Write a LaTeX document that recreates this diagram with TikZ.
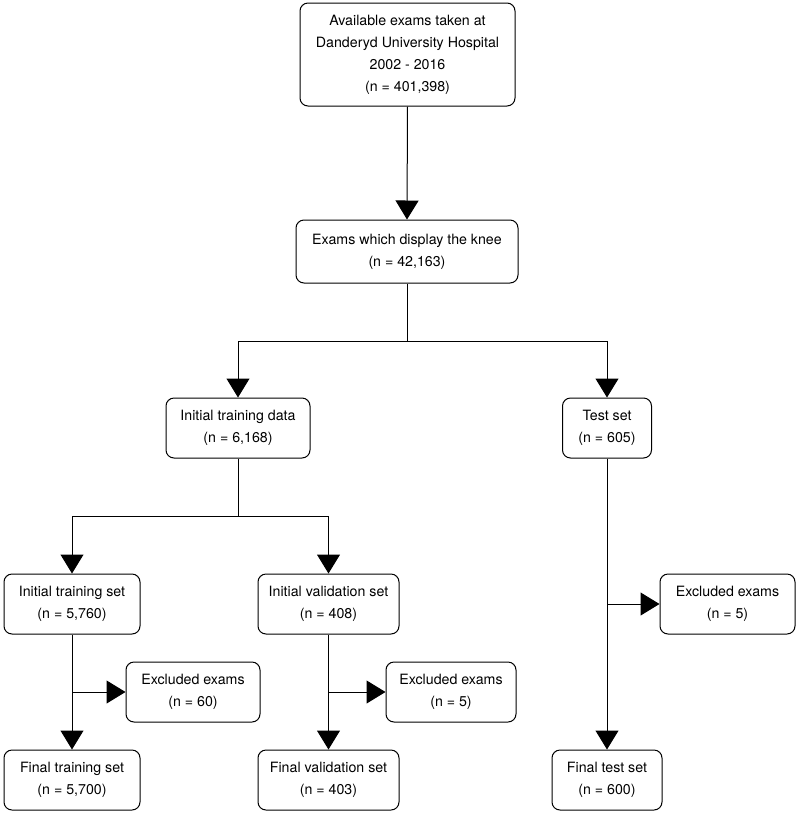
\documentclass[tikz,border=0pt]{standalone}
\usepackage{fontspec}
\setmainfont{TeX Gyre Heros}
\usetikzlibrary{arrows.meta}
\begin{document}
\begin{tikzpicture}[x=1pt,y=-1pt,
 box/.style={draw, line width=1pt, rounded corners=8pt, align=center, inner sep=0pt, font=\fontsize{14.2}{22}\selectfont},
 arr/.style={line width=1pt, -{Triangle[width=23pt,length=19pt]}},
 ln/.style={line width=1pt}]
\useasboundingbox (0,0) rectangle (800,815);
\node[box, minimum width=215pt, minimum height=103pt] (top) at (407.5,54.5) {Available exams taken at\\Danderyd University Hospital\\2002 - 2016\\(n = 401,398)};
\node[box, minimum width=222pt, minimum height=63pt] (knee) at (407,251.5) {Exams which display the knee\\(n = 42,163)};
\node[box, minimum width=144pt, minimum height=60pt] (itd) at (238,428) {Initial training data\\(n = 6,168)};
\node[box, minimum width=89pt, minimum height=60pt] (test) at (607,428) {Test set\\(n = 605)};
\node[box, minimum width=136pt, minimum height=60pt] (its) at (72,604) {Initial training set\\(n = 5,760)};
\node[box, minimum width=141pt, minimum height=60pt] (ivs) at (328.5,604) {Initial validation set\\(n = 408)};
\node[box, minimum width=135pt, minimum height=60pt] (exr) at (727.5,604) {Excluded exams\\(n = 5)};
\node[box, minimum width=134pt, minimum height=60pt] (ex1) at (193,692) {Excluded exams\\(n = 60)};
\node[box, minimum width=130pt, minimum height=60pt] (ex2) at (451,692) {Excluded exams\\(n = 5)};
\node[box, minimum width=136pt, minimum height=60pt] (fts) at (72,780) {Final training set\\(n = 5,700)};
\node[box, minimum width=141pt, minimum height=60pt] (fvs) at (328.5,780) {Final validation set\\(n = 403)};
\node[box, minimum width=110pt, minimum height=60pt] (fte) at (607,780) {Final test set\\(n = 600)};
\coordinate (kj) at (407,341);
\coordinate (dj) at (238,516);
\coordinate (e1) at (72,692);
\coordinate (e2) at (328.5,692);
\coordinate (e3) at (607,604);
\draw[arr] (top.south) -- (knee.north);
\draw[ln] (knee.south) -- (kj);
\draw[arr] (kj) -| (itd.north);
\draw[arr] (kj) -| (test.north);
\draw[ln] (itd.south) -- (dj);
\draw[arr] (dj) -| (its.north);
\draw[arr] (dj) -| (ivs.north);
\draw[arr] (its.south) -- (fts.north);
\draw[arr] (e1) -- (ex1.west);
\draw[arr] (ivs.south) -- (fvs.north);
\draw[arr] (e2) -- (ex2.west);
\draw[arr] (test.south) -- (fte.north);
\draw[arr] (e3) -- (exr.west);
\end{tikzpicture}
\end{document}
